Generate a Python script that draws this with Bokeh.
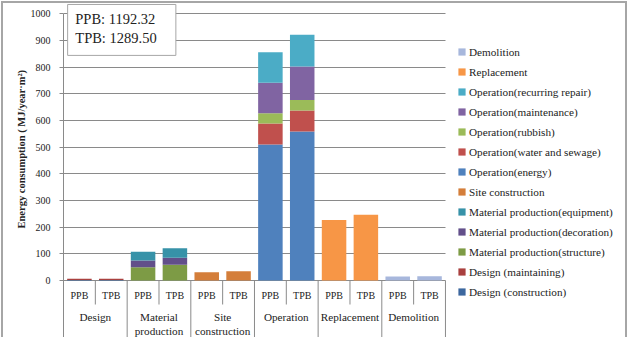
from bokeh.plotting import figure
from bokeh.models import ColumnDataSource, FixedTicker, Range1d, Legend, LegendItem, Title
from bokeh.core.properties import value
from bokeh.embed import file_html
from bokeh.resources import INLINE

FONT = "Liberation Serif"
INK = "#222222"
RULE = "#8a8a8a"
FRAME = "2px solid #a6a6a6"

# category axis: scenario per bar, stage per pair of bars
scenarios = ["PPB", "TPB"]
stages = ["Design", "Material\nproduction", "Site\nconstruction", "Operation", "Replacement", "Demolition"]

series_names = [
    "Design (construction)",
    "Design (maintaining)",
    "Material production(structure)",
    "Material production(decoration)",
    "Material production(equipment)",
    "Site construction",
    "Operation(energy)",
    "Operation(water and sewage)",
    "Operation(rubbish)",
    "Operation(maintenance)",
    "Operation(recurring repair)",
    "Replacement",
    "Demolition",
]
series_colors = [
    "#3c679e", "#a9403f", "#7d9b45", "#624f8a", "#3792a8", "#d47e3a",
    "#4f81bd", "#c0504d", "#9bbb59", "#8064a2", "#4bacc6", "#f79646", "#a7b7dc",
]

# one value per bar, in order: Design PPB/TPB, Material production PPB/TPB, ...
design_construction = [2, 2, 0, 0, 0, 0, 0, 0, 0, 0, 0, 0]
design_maintaining  = [5, 5, 0, 0, 0, 0, 0, 0, 0, 0, 0, 0]
mat_structure       = [0, 0, 50, 59, 0, 0, 0, 0, 0, 0, 0, 0]
mat_decoration      = [0, 0, 25, 26, 0, 0, 0, 0, 0, 0, 0, 0]
mat_equipment       = [0, 0, 33, 36, 0, 0, 0, 0, 0, 0, 0, 0]
site_construction   = [0, 0, 0, 0, 31, 35, 0, 0, 0, 0, 0, 0]
op_energy           = [0, 0, 0, 0, 0, 0, 510, 559, 0, 0, 0, 0]
op_water            = [0, 0, 0, 0, 0, 0, 79, 78, 0, 0, 0, 0]
op_rubbish          = [0, 0, 0, 0, 0, 0, 38, 40, 0, 0, 0, 0]
op_maintenance      = [0, 0, 0, 0, 0, 0, 114, 125, 0, 0, 0, 0]
op_repair           = [0, 0, 0, 0, 0, 0, 115, 119, 0, 0, 0, 0]
replacement         = [0, 0, 0, 0, 0, 0, 0, 0, 227, 247, 0, 0]
demolition          = [0, 0, 0, 0, 0, 0, 0, 0, 0, 0, 15, 16]

series_values = [
    design_construction, design_maintaining, mat_structure, mat_decoration,
    mat_equipment, site_construction, op_energy, op_water, op_rubbish,
    op_maintenance, op_repair, replacement, demolition,
]

total_ppb = "1192.32"
total_tpb = "1289.50"

y_ticks = list(range(0, 1001, 100))

bar_labels = [s for _ in stages for s in scenarios]
n_bars = len(bar_labels)
bar_x = [i + 0.5 for i in range(n_bars)]

keys = [f"s{i}" for i in range(len(series_names))]
data = dict(x=bar_x, label=bar_labels)
for k, vals in zip(keys, series_values):
    data[k] = vals
src = ColumnDataSource(data)

# The frame spans the whole chart to the right edge; the bars occupy the first
# n_bars slots and the legend sits in the space that is left.
CANVAS_W, CANVAS_H = 626, 336
LEFT = 60
SLOT_PX = 31.83
x_end = (CANVAS_W - LEFT) / SLOT_PX
# the y range reaches below zero so the two-level category labels sit inside the frame
Y_LOW, Y_HIGH = -221.2, 1038.6

p = figure(
    width=CANVAS_W, height=CANVAS_H,
    x_range=Range1d(0, x_end), y_range=Range1d(Y_LOW, Y_HIGH),
    output_backend="svg", toolbar_location=None, x_axis_location=None,
    min_border_left=LEFT, min_border_right=0, min_border_top=0, min_border_bottom=0,
)
p.styles = {
    "border-top": FRAME, "border-left": FRAME, "border-right": FRAME,
    "margin": "1px 1px 0px 1px",
}
p.outline_line_color = None
p.background_fill_color = "white"
p.border_fill_color = "white"

p.xgrid.visible = False
p.ygrid.ticker = FixedTicker(ticks=y_ticks)
p.ygrid.cross_bounds = (0, n_bars)
p.ygrid.grid_line_color = RULE
p.ygrid.grid_line_width = 1

ax = p.yaxis[0]
ax.ticker = FixedTicker(ticks=y_ticks)
ax.bounds = (Y_LOW, 1000)
ax.axis_line_color = RULE
ax.major_tick_line_color = RULE
ax.major_tick_out = 4
ax.major_tick_in = 0
ax.minor_tick_line_color = None
ax.major_label_standoff = 9
ax.major_label_text_font = FONT
ax.major_label_text_font_size = "10px"
ax.major_label_text_color = INK

p.add_layout(Title(
    text="Energy consumption ( MJ/year·m²)", align="left", offset=111, standoff=1,
    text_font=FONT, text_font_size="10.5px", text_font_style="bold", text_color=INK,
), "left")

renderers = p.vbar_stack(keys, x="x", width=0.77, color=series_colors, line_color=None, source=src)

# category separators and labels below the zero line
inner_sep = [2 * g + 1 for g in range(len(stages))]
outer_sep = [2 * g + 2 for g in range(len(stages))]
p.segment(x0=inner_sep, y0=[0] * len(inner_sep), x1=inner_sep, y1=[-90] * len(inner_sep),
          line_color=RULE, line_width=1)
p.segment(x0=outer_sep, y0=[0] * len(outer_sep), x1=outer_sep, y1=[Y_LOW] * len(outer_sep),
          line_color=RULE, line_width=1)

p.text(x="x", y=-56, text="label", source=src, text_align="center", text_baseline="middle",
       text_font=value(FONT), text_font_size="10px", text_color=INK)
group_x = [2 * g + 1 for g in range(len(stages))]
p.text(x=group_x, y=[-112.5] * len(stages), text=stages, text_align="center", text_baseline="top",
       text_line_height=1.22, text_font=value(FONT), text_font_size="11.2px", text_color=INK)

# totals box
p.quad(left=[0.13], right=[3.53], top=[1035], bottom=[844],
       fill_color="white", line_color="#a6a6a6", line_width=1)
p.text(x=[0.37, 0.37], y=[979, 911], text=[f"PPB: {total_ppb}", f"TPB: {total_tpb}"],
       text_baseline="middle", text_font=value(FONT), text_font_size="14.5px", text_color=INK)

items = [LegendItem(label=name, renderers=[r]) for name, r in zip(series_names, renderers)]
legend = Legend(
    items=items[::-1], location=(394, 41), padding=0, margin=0, spacing=7,
    glyph_width=9, glyph_height=9, label_height=13, label_standoff=3,
    label_text_font=FONT, label_text_font_size="11.2px", label_text_color=INK,
    border_line_alpha=0, background_fill_alpha=0,
)
p.add_layout(legend)

open("out.html", "w").write(file_html(p, INLINE))
